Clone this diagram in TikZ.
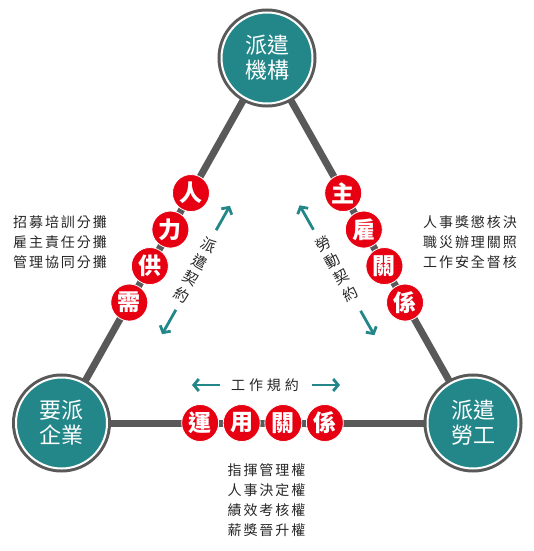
\documentclass[tikz,border=0pt]{standalone}
\usepackage{fontspec}
\setmainfont{Noto Sans CJK TC}
\usetikzlibrary{shapes.geometric,arrows.meta,backgrounds}
\definecolor{hubteal}{HTML}{23878A}
\definecolor{beadred}{HTML}{E60012}
\definecolor{bargray}{HTML}{595959}
\tikzset{
  hub/.style={circle, fill=hubteal, draw=white, line width=2pt,
    minimum size=91pt, inner sep=0pt, text=white, align=center,
    font=\fontsize{22}{25}\selectfont,
    preaction={draw=bargray, line width=8pt}},
  bead/.style={circle, fill=beadred, draw=white, line width=.8pt,
    minimum size=37pt, inner sep=0pt, text=white,
    font=\fontsize{23}{23}\selectfont\bfseries},
  bar/.style={draw=bargray, line width=7pt},
  duty/.style={align=center, text=black!85,
    font=\fontsize{14}{20}\selectfont\addfontfeature{LetterSpace=14}},
  hint/.style={draw=hubteal, line width=2.8pt,
    -{Straight Barb[length=5pt,width=12pt]}},
}
\begin{document}
\begin{tikzpicture}[x=1pt,y=-1pt]
    \useasboundingbox (0,0) rectangle (533,551);
    \node[hub] (agency) at (267,58) {派遣\\機構};
    \node[hub] (client) at (61.5,423) {要派\\企業};
    \node[hub] (worker) at (473,423) {派遣\\勞工};
    \begin{scope}[on background layer]
    \draw[bar] (agency.center) -- (client.center)
          node[bead,pos=.37] {人}
          node[bead,pos=.47] {力}
          node[bead,pos=.57] {供}
          node[bead,pos=.67] {需}; % supply side
    \draw[bar] (agency.center) -- (worker.center)
          node[bead,pos=.37] {主}
          node[bead,pos=.47] {雇}
          node[bead,pos=.57] {關}
          node[bead,pos=.67] {係}; % employer side
    \draw[bar] (client.center) -- (worker.center)
          node[bead,pos=.337] {運}
          node[bead,pos=.438] {用}
          node[bead,pos=.539] {關}
          node[bead,pos=.64] {係}; % use side
    \end{scope}
    \node[duty] (supply) at (60,242) {招募培訓分攤\\雇主責任分攤\\管理協同分攤};
    \node[duty] (employ) at (470,242) {人事獎懲核決\\職災辦理關照\\工作安全督核};
    \node[duty] (use) at (266.5,500) {指揮管理權\\人事決定權\\績效考核權\\薪獎晉升權};
    \node[duty,rotate=-29,font=\fontsize{15}{18.8}\selectfont] (dispatch) at (195,270) {派\\遣\\契\\約};
    \node[duty,rotate=29,font=\fontsize{15}{18.8}\selectfont] (labour) at (337,269) {勞\\動\\契\\約};
    \node[duty,font=\fontsize{14}{20}\selectfont\addfontfeature{LetterSpace=28}] (rule) at (265,385) {工作規約};
    % teal arrows
    \coordinate (dispA) at (216.1,230.2);
    \coordinate (dispB) at (229.9,205.8);
    \coordinate (dispC) at (175.9,309.8);
    \coordinate (dispD) at (162.1,334.2);
    \coordinate (labA) at (313.4,229.7);
    \coordinate (labB) at (299.6,205.3);
    \coordinate (labC) at (360.6,310.8);
    \coordinate (labD) at (374.4,335.2);
    \coordinate (ruleA) at (220,385);
    \coordinate (ruleB) at (192,385);
    \coordinate (ruleC) at (312,385);
    \coordinate (ruleD) at (340,385);
    \draw[hint] (dispA) -- (dispB);
    \draw[hint] (dispC) -- (dispD);
    \draw[hint] (labA) -- (labB);
    \draw[hint] (labC) -- (labD);
    \draw[hint] (ruleA) -- (ruleB);
    \draw[hint] (ruleC) -- (ruleD);
\end{tikzpicture}
\end{document}
